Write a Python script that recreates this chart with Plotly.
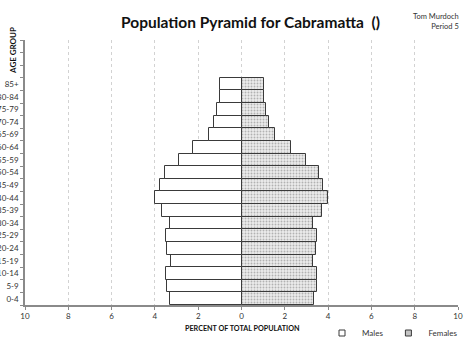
import plotly.graph_objects as go

# Age groups, youngest first (bottom of the pyramid)
age_groups = ["0-4", "5-9", "10-14", "15-19", "20-24", "25-29", "30-34", "35-39",
              "40-44", "45-49", "50-54", "55-59", "60-64", "65-69", "70-74",
              "75-79", "80-84", "85+"]
# Empty slots kept above the oldest group
spare_slots = [" ", "  ", "   "]

# Percent of total population
males = [3.31, 3.45, 3.48, 3.26, 3.43, 3.48, 3.29, 3.66, 3.99, 3.76, 3.54,
         2.90, 2.25, 1.49, 1.26, 1.14, 0.98, 1.00]
females = [3.37, 3.49, 3.49, 3.31, 3.46, 3.51, 3.31, 3.72, 4.00, 3.77, 3.58,
           2.96, 2.29, 1.54, 1.28, 1.15, 1.03, 1.03]

x_ticks = [-10, -8, -6, -4, -2, 0, 2, 4, 6, 8, 10]
x_tick_text = [str(abs(v)) for v in x_ticks]

FONT = "Lato"
edge = "#3a3a3a"

fig = go.Figure()
fig.add_trace(go.Bar(
    y=age_groups, x=[-v for v in males], orientation="h", name="Males",
    legendgroup="m", showlegend=False,
    marker=dict(color="white", line=dict(color=edge, width=1)),
))
fig.add_trace(go.Bar(
    y=age_groups, x=females, orientation="h", name="Females",
    legendgroup="f", showlegend=False,
    marker=dict(color="#e6e6e6", line=dict(color=edge, width=1),
                pattern=dict(shape=".", fgcolor="#7a7a7a", bgcolor="#ebebeb",
                             size=3, solidity=0.3)),
))
# Compact legend keys (small squares) for the two series
fig.add_trace(go.Scatter(
    x=[None], y=[None], mode="markers", name="Males", legendgroup="m",
    marker=dict(symbol="square", size=6, color="white",
                line=dict(color=edge, width=1)),
))
fig.add_trace(go.Scatter(
    x=[None], y=[None], mode="markers", name="Females", legendgroup="f",
    marker=dict(symbol="square", size=6, color="#c4c4c4",
                line=dict(color=edge, width=1)),
))

L, R, T, B = 25, 16, 40, 40
W, H = 474, 345
pw, ph = W - L - R, H - T - B

def px_x(x):
    return (x - L) / pw

def px_y(y):
    return (H - B - y) / ph

fig.update_layout(
    width=W, height=H,
    margin=dict(l=L, r=R, t=T, b=B, pad=0, autoexpand=False),
    paper_bgcolor="white", plot_bgcolor="white",
    barmode="overlay", bargap=0,
    font=dict(family=FONT, size=8, color="#333333"),
    showlegend=True,
    legend=dict(orientation="h", x=px_x(463), xanchor="right", y=px_y(333),
                yanchor="middle", font=dict(size=8, color="#333333"),
                itemwidth=30, bgcolor="rgba(0,0,0,0)", tracegroupgap=0),
    xaxis=dict(range=[-10, 10], tickvals=x_ticks, ticktext=x_tick_text,
               automargin=False,
               showgrid=True, gridcolor="#d2d2d2", griddash="dot", gridwidth=1,
               zeroline=False, showline=True, linecolor="#8a8a8a", linewidth=1.5,
               ticks="outside", ticklen=3, tickcolor="#8a8a8a",
               tickfont=dict(size=8, color="#333333"), fixedrange=True),
    yaxis=dict(type="category", categoryorder="array",
               categoryarray=age_groups + spare_slots,
               range=[-0.5, len(age_groups) + len(spare_slots) - 0.5],
               automargin=False,
               showgrid=False, zeroline=False, showline=True,
               linecolor="#8a8a8a", linewidth=1.5,
               ticks="outside", tickson="boundaries", ticklen=3,
               ticklabelstandoff=3,
               tickcolor="#8a8a8a", tickfont=dict(size=8, color="#333333"),
               fixedrange=True),
    annotations=[
        dict(text="<b>Population Pyramid for Cabramatta  ()</b>",
             xref="paper", yref="paper", x=px_x(250), y=px_y(22),
             xanchor="center", yanchor="middle", showarrow=False,
             font=dict(family=FONT, size=15.5, color="#111111")),
        dict(text="Tom Murdoch<br>Period 5", align="right",
             xref="paper", yref="paper", x=px_x(461), y=px_y(21),
             xanchor="right", yanchor="middle", showarrow=False,
             font=dict(family=FONT, size=7.5, color="#333333")),
        dict(text="<b>AGE GROUP</b>", textangle=-90,
             xref="paper", yref="paper", x=px_x(13), y=px_y(51),
             xanchor="center", yanchor="middle", showarrow=False,
             font=dict(family=FONT, size=8, color="#111111")),
        dict(text="<b>PERCENT OF TOTAL POPULATION</b>",
             xref="paper", yref="paper", x=px_x(242), y=px_y(328),
             xanchor="center", yanchor="middle", showarrow=False,
             font=dict(family=FONT, size=7.2, color="#111111")),
    ],
)

fig.write_html("out.html")
